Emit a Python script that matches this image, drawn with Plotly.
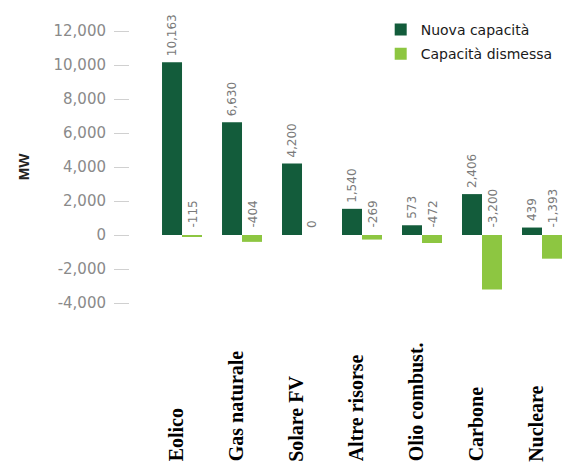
import plotly.graph_objects as go

# Capacity changes by source (MW)
categories = ["Eolico", "Gas naturale", "Solare FV", "Altre risorse",
              "Olio combust.", "Carbone", "Nucleare"]
nuova = [10163, 6630, 4200, 1540, 573, 2406, 439]
dismessa = [-115, -404, 0, -269, -472, -3200, -1393]
y_ticks = [-4000, -2000, 0, 2000, 4000, 6000, 8000, 10000, 12000]
y_tick_text = [f"{v:,}" for v in y_ticks]

DARK = "#135c3b"
LIGHT = "#8dc641"

fig = go.Figure()
fig.add_trace(go.Bar(x=categories, y=nuova, name="Nuova capacità",
                     marker=dict(color=DARK, line=dict(width=0)),
                     legendgroup="a"))
fig.add_trace(go.Bar(x=categories, y=dismessa, name="Capacità dismessa",
                     marker=dict(color=LIGHT, line=dict(width=0)),
                     legendgroup="b"))

annotations = []
label_font = dict(family="DejaVu Sans", size=12, color="#7a7a7a")
for cat, v in zip(categories, nuova):
    annotations.append(dict(x=cat, y=max(v, 0), xref="x", yref="y",
                            text=f"{v:,}", textangle=-90, showarrow=False,
                            xanchor="center", yanchor="bottom",
                            xshift=-10, yshift=4, font=label_font))
for cat, v in zip(categories, dismessa):
    annotations.append(dict(x=cat, y=max(v, 0), xref="x", yref="y",
                            text=f"{v:,}", textangle=-90, showarrow=False,
                            xanchor="center", yanchor="bottom",
                            xshift=10, yshift=5, font=label_font))
# category names along the bottom, rotated and bottom-aligned
for cat in categories:
    annotations.append(dict(x=cat, y=-0.47, xref="x", yref="paper",
                            text=f"<b>{cat}</b>", textangle=-90, showarrow=False,
                            xanchor="center", yanchor="bottom", xshift=-6,
                            font=dict(family="Liberation Serif", size=20,
                                      color="#000000")))
# axis title
annotations.append(dict(x=-0.245, y=0.5, xref="paper", yref="paper",
                        text="<b>MW</b>", textangle=-90, showarrow=False,
                        xanchor="center", yanchor="middle",
                        font=dict(family="Liberation Sans", size=15,
                                  color="#222222")))

fig.update_layout(
    width=566, height=468,
    margin=dict(l=130, r=0, t=14, b=148),
    paper_bgcolor="white", plot_bgcolor="white",
    barmode="group", bargap=1/3, bargroupgap=0,
    showlegend=True,
    legend=dict(x=0.575, y=1.0, xanchor="left", yanchor="top",
                tracegroupgap=3, bgcolor="rgba(0,0,0,0)",
                font=dict(family="DejaVu Sans", size=14, color="#1a1a1a")),
    annotations=annotations,
)
fig.update_xaxes(range=[-0.867, 6.4], showticklabels=False, ticks="",
                 showgrid=False, zeroline=False, showline=False)
fig.update_yaxes(range=[-5000, 13000], tickvals=y_ticks, ticktext=y_tick_text,
                 ticks="outside", ticklen=15, tickcolor="#d0d0d0", tickwidth=1,
                 ticklabelstandoff=5,
                 tickfont=dict(family="DejaVu Sans", size=15, color="#8a8a8a"),
                 showgrid=False, zeroline=False, showline=False)

fig.write_html("out.html")
